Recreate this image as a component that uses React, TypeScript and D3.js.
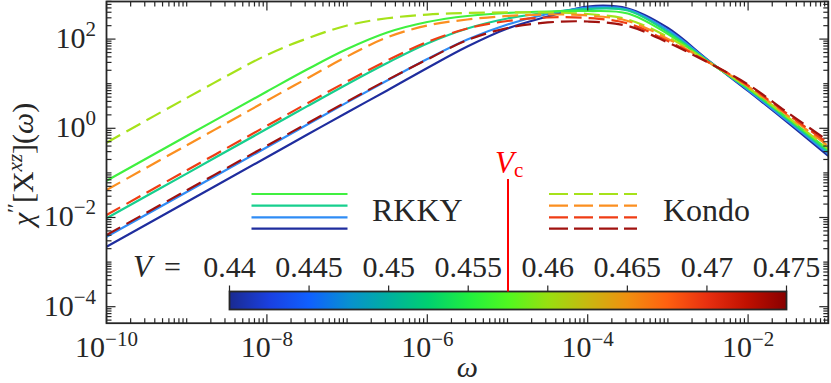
import React from "react";
import * as d3 from "d3";

// frequency grid, read every half decade
const omega = [
  1e-10, 1e-9, 1e-8, 3.16e-8, 1e-7, 3.16e-7, 1e-6, 3.16e-6, 1e-5, 3.16e-5,
  1e-4, 3.16e-4, 1e-3, 3.16e-3, 1e-2, 3.16e-2, 1e-1
];

// RKKY side (solid), from small V to V just below Vc
const rkkyDarkBlue = [2.21e-3, 2.23e-2, 0.225, 0.715, 2.27, 7.04, 22.5, 68.2, 173, 321, 538, 485, 177, 34.0, 6.86, 1.32, 0.239];
const rkkyBlue = [3.71e-3, 3.73e-2, 0.377, 1.2, 3.81, 11.8, 35.8, 98.0, 212, 365, 511, 461, 160, 33.1, 7.22, 1.42, 0.265];
const rkkyTeal = [9.6e-3, 9.65e-2, 0.975, 3.1, 9.74, 29.1, 79.7, 173, 290, 395, 473, 438, 144, 32.3, 7.61, 1.54, 0.294];
const rkkyGreen = [6.69e-2, 0.672, 6.69, 20.8, 60.0, 141, 242, 330, 385, 416, 427, 375, 130, 31.5, 8.01, 1.66, 0.326];

// Kondo side (dashed), from V just above Vc to large V
const kondoLime = [0.476, 4.78, 44.0, 103, 202, 293, 354, 385, 397, 395, 365, 275, 112, 31.5, 8.22, 1.75, 0.352];
const kondoOrange = [4.14e-2, 0.416, 4.16, 13.1, 40.7, 109, 202, 275, 330, 356, 338, 255, 101, 30.7, 8.65, 1.89, 0.401];
const kondoRed = [1.14e-2, 0.114, 1.14, 3.6, 11.2, 33.1, 86.1, 173, 255, 305, 297, 224, 90.7, 30.7, 9.11, 2.04, 0.456];
const kondoDarkRed = [4.05e-3, 4.07e-2, 0.407, 1.28, 3.99, 12.1, 34.9, 95.4, 177, 236, 248, 197, 83.9, 29.9, 9.6, 2.2, 0.519];

const rkkyColors = ["#1f2d9e", "#2f8cf5", "#17cf8e", "#40f040"];
const kondoColors = ["#a6e21a", "#fb8f20", "#ef3d14", "#a0120f"];

const xTicks = [1e-10, 1e-8, 1e-6, 1e-4, 1e-2];
const xTickExp = ["−10", "−8", "−6", "−4", "−2"];
const yTicks = [1e2, 1, 1e-2, 1e-4];
const yTickExp = ["2", "0", "−2", "−4"];

const cbTicks = [0.44, 0.445, 0.45, 0.455, 0.46, 0.465, 0.47, 0.475];
const cbLabels = ["0.44", "0.445", "0.45", "0.455", "0.46", "0.465", "0.47", "0.475"];
const cbColors = [
  "#1a2a90", "#1a40e0", "#1060ff", "#0890d0", "#00b0a0", "#00d070", "#20ee40", "#50f820",
  "#98e010", "#c8b810", "#f09010", "#ff6010", "#e83010", "#c01000", "#880000"
];
const Vc = 0.4575;

const FONT = '"Liberation Serif"';
const INK = "#262626";

const left = 106.5, right = 828.3, top = 1.5, bottom = 323.2;
const x = d3.scaleLog().domain([1e-10, 1e-1]).range([left, right]);
const y = d3.scaleLog().domain([Math.pow(10, -4.37), Math.pow(10, 2.843)]).range([bottom, top]);
const cb = d3.scaleLinear().domain([0.44, 0.475]).range([229.5, 786.5]);
const cbTop = 291.5, cbBottom = 309.5;

const line = d3.line<[number, number]>()
  .x(d => x(d[0]))
  .y(d => y(d[1]))
  .curve(d3.curveCatmullRom.alpha(0.5));

const toPath = (s: number[]) => line(omega.map((w, j) => [w, s[j]] as [number, number])) || "";

// minor/major tick positions
const xTickMarks: { v: number; major: boolean }[] = [];
for (let k = -10; k <= -1; k++) {
  for (let n = 1; n <= 9; n++) {
    const v = n * Math.pow(10, k);
    if (v > 1.0001e-1) continue;
    xTickMarks.push({ v, major: n === 1 && k % 2 === 0 });
  }
}
const yTickMarks: { v: number; major: boolean }[] = [];
for (let k = -5; k <= 2; k++) {
  for (let n = 1; n <= 9; n++) {
    const v = n * Math.pow(10, k);
    const py = y(v);
    if (py < top - 0.1 || py > bottom + 0.1) continue;
    yTickMarks.push({ v, major: n === 1 && k % 2 === 0 });
  }
}

const App = () => {
  const solid = [rkkyDarkBlue, rkkyBlue, rkkyTeal, rkkyGreen];
  const dashed = [kondoLime, kondoOrange, kondoRed, kondoDarkRed];
  const legY = [194, 205.7, 217.3, 228.7];
  const legSolidColors = [rkkyColors[3], rkkyColors[2], rkkyColors[1], rkkyColors[0]];

  return (
    <svg width={831} height={383}
      style={{ position: "absolute", left: 0, top: 0, display: "block", background: "#fff" }}>
      <defs>
        <clipPath id="plotclip">
          <rect x={left} y={top} width={right - left} height={bottom - top} />
        </clipPath>
        <linearGradient id="cbgrad" x1="0%" x2="100%" y1="0%" y2="0%">
          {cbColors.map((c, i) => (
            <stop key={i} offset={`${(100 * i) / (cbColors.length - 1)}%`} stopColor={c} />
          ))}
        </linearGradient>
      </defs>

      <g clipPath="url(#plotclip)" fill="none" strokeWidth={2.2}>
        {solid.map((s, i) => <path key={"s" + i} d={toPath(s)} stroke={rkkyColors[i]} />)}
        {dashed.map((s, i) => <path key={"d" + i} d={toPath(s)} stroke={kondoColors[i]} strokeDasharray="16,7" />)}
      </g>

      <g stroke={INK} strokeWidth={1.2}>
        {xTickMarks.map((t, i) => {
          const len = t.major ? 9 : 5;
          return (
            <g key={"xt" + i}>
              <line x1={x(t.v)} x2={x(t.v)} y1={bottom} y2={bottom - len} />
              <line x1={x(t.v)} x2={x(t.v)} y1={top} y2={top + len} />
            </g>
          );
        })}
        {yTickMarks.map((t, i) => {
          const len = t.major ? 9 : 5;
          return (
            <g key={"yt" + i}>
              <line x1={left} x2={left + len} y1={y(t.v)} y2={y(t.v)} />
              <line x1={right} x2={right - len} y1={y(t.v)} y2={y(t.v)} />
            </g>
          );
        })}
      </g>
      <rect x={left} y={top} width={right - left} height={bottom - top}
        fill="none" stroke={INK} strokeWidth={1.8} />

      <g fill={INK} style={{ fontFamily: FONT }}>
        {xTicks.map((v, i) => (
          <text key={"xl" + i} x={x(v)} y={357} textAnchor="middle" fontSize={30} style={{ fontFamily: FONT }}>
            10<tspan dy={-11} fontSize={21}>{xTickExp[i]}</tspan>
          </text>
        ))}
        {yTicks.map((v, i) => (
          <text key={"yl" + i} x={96} y={y(v) + 9} textAnchor="end" fontSize={30} style={{ fontFamily: FONT }}>
            10<tspan dy={-12} fontSize={21}>{yTickExp[i]}</tspan>
          </text>
        ))}

        <text x={(left + right) / 2} y={377} textAnchor="middle" fontSize={30} fontStyle="italic"
          style={{ fontFamily: FONT }}>ω</text>

        <text transform={`translate(33,${(top + bottom) / 2 + 2}) rotate(-90)`} textAnchor="middle"
          fontSize={30} style={{ fontFamily: FONT }}>
          <tspan fontStyle="italic">χ</tspan>
          <tspan dy={-11} fontSize={22}>′′</tspan>
          <tspan dy={11}>[X</tspan>
          <tspan dy={-11} fontSize={21} fontStyle="italic">xz</tspan>
          <tspan dy={11}>](</tspan>
          <tspan fontStyle="italic">ω</tspan>
          <tspan>)</tspan>
        </text>

        <text x={372} y={221} fontSize={32} style={{ fontFamily: FONT }}>RKKY</text>
        <text x={663} y={221} fontSize={32} style={{ fontFamily: FONT }}>Kondo</text>

        {cbTicks.map((v, i) => (
          <text key={"cl" + i} x={cb(v)} y={277} textAnchor="middle" fontSize={30} style={{ fontFamily: FONT }}>
            {cbLabels[i]}
          </text>
        ))}
        <text x={133} y={277} fontSize={31} fontStyle="italic" style={{ fontFamily: FONT }}>V</text>
        <text x={164} y={277} fontSize={30} style={{ fontFamily: FONT }}>=</text>
      </g>

      {legY.map((ly, i) => (
        <g key={"lg" + i} strokeWidth={2.2}>
          <line x1={251.5} x2={347.5} y1={ly} y2={ly} stroke={legSolidColors[i]} />
          <line x1={549} x2={637} y1={ly} y2={ly} stroke={kondoColors[i]} strokeDasharray="19,6" />
        </g>
      ))}

      <rect x={cb(0.44)} y={cbTop} width={cb(0.475) - cb(0.44)} height={cbBottom - cbTop}
        fill="url(#cbgrad)" stroke={INK} strokeWidth={1.8} />
      {cbTicks.map((v, i) => (
        <line key={"ct" + i} x1={cb(v)} x2={cb(v)} y1={cbTop} y2={cbTop - 6} stroke={INK} strokeWidth={1.2} />
      ))}

      <line x1={cb(Vc)} x2={cb(Vc)} y1={179} y2={cbTop} stroke="#ff0000" strokeWidth={2} />
      <text x={cb(Vc) - 13} y={173} fontSize={31} fill="#ff0000" style={{ fontFamily: FONT }}>
        <tspan fontStyle="italic">V</tspan>
        <tspan dy={4} fontSize={21}>c</tspan>
      </text>
    </svg>
  );
};

export default App;
